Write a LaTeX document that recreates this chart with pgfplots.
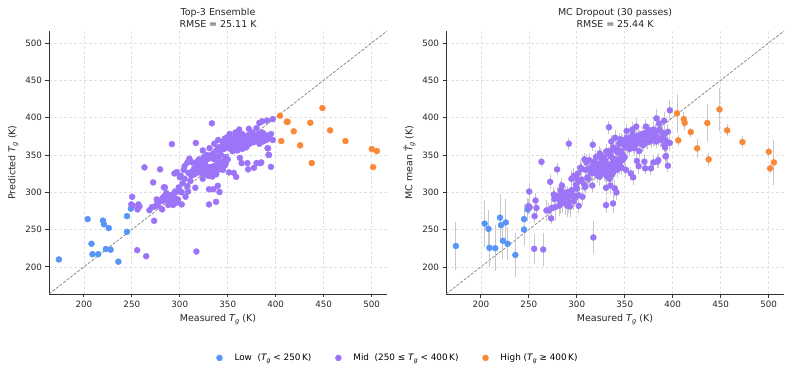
\documentclass[border=0pt]{standalone}
\usepackage{pgfplots}
\pgfplotsset{compat=1.18}
\usepackage{pgfplotstable}
\usepackage{fontspec}
\setmainfont{DejaVu Sans}

\definecolor{lowc}{HTML}{3B82F6}
\definecolor{midc}{HTML}{8B5CF6}
\definecolor{highc}{HTML}{F97316}
\definecolor{gridc}{HTML}{E2E2E2}
\definecolor{spinec}{HTML}{333333}
\definecolor{diagc}{HTML}{808080}
\definecolor{barc}{HTML}{C8C8CC}

% T_g and \hat T_g set in the text font
\newcommand\Tg{\textit{T}\kern-0.04em\raisebox{-0.32ex}{\scalebox{0.7}{\textit{g}}}}
\newcommand\Tghat{\textit{\^{T}}\kern-0.04em\raisebox{-0.32ex}{\scalebox{0.7}{\textit{g}}}}

% measured Tg, ensemble prediction, MC-dropout mean, MC-dropout std
\pgfplotstableread{
x yl yr e
174 210 228 32
204 264 258 31
208 231 251 25
209 217 225.5 25
215 217 225 31
220 262 266 32
221 257 256 20
226 252 259.5 32
223 224 235 25
228 223 231 22
236 207 216 29
245 268 264 20
245 247 250 22
249 278 277 15
}\lowdata

\pgfplotstableread{
x yl yr e
250.4 293.9 301.0 12
249.5 283.7 281.4 10
251.0 282.0 280.0 9
257.0 283.7 289.0 10
258.0 281.0 279.0 12
256.0 277.0 268.0 9
263.2 333.3 340.8 7
272.3 313.2 314.0 10
268.4 276.0 275.6 14
271.0 280.0 276.0 10
274.0 281.0 279.0 11
273.3 261.7 265.0 8
279.5 330.6 330.6 8
276.0 290.4 297.0 10
276.6 285.0 291.0 12
277.5 282.0 280.0 18
281.6 277.0 282.0 14
283.4 306.5 303.0 12
284.5 306.5 309.0 10
255.6 222.4 224.2 20
265.0 214.3 223.3 22
317.3 220.6 239.4 22
280 288 295 12
282 292 290 10
284 295 300 11
285 290 286 14
286 293 296 9
287 297 292 12
288 291 298 10
289 294 290 13
290 296 300 8
291 292 287 15
292 289 294 10
293 295 297 9
294 298 302 12
288 283 285 16
293 283 281 14
296 291 296 10
297 286 288 12
298 290 292 9
295 301 303 10
286 299 296 11
283 289 284 13
290 287 282 15
294.4 325.2 318 12
299.0 306.5 310 10
300 301 305 9
302 300 296 12
302 283.7 281.8 10
306 294 293.9 11
308.6 301 307 9
308 308 310 10
316.2 306 309 8
298 290 293.9 12
303 312 315 10
305 318 317 9
300 320 318 11
297 327 322 10
311 315 320 9
312 322 318 12
315 324 326 10
309 326 330 8
304 330 333 10
301 322 325 11
313 328 332 10
315 332 328 9
316 325 329 11
318 330 326 10
319 335 338 8
320 327 330 12
321 331 335 9
322 326 322 10
323 333 336 9
324 329 333 11
325 324 327 10
326 331 328 8
327 336 339 10
328 327 330 9
329 330 326 11
330 333 337 10
331 325 322 12
332 329 332 9
333 334 330 10
334 328 331 8
335 331 335 10
336 335 338 9
337 327 324 11
338 332 336 10
339 336 333 9
340 330 334 10
341 338 342 8
342 333 330 11
343 340 344 9
344 335 338 10
345 338 341 9
346 342 345 8
347 336 333 10
348 339 343 9
350 344 347 10
318 338 341 9
322 340 338 10
326 341 345 8
330 322 325 11
334 321 318 12
338 324 327 10
345 330 333 9
330 345 342 10
325 347 350 9
320 344 347 10
317 340 337 11
324 318 321 12
336 344 348 9
340 345 342 10
348 347 350 9
330.5 283.7 282.7 11
330.5 304 306 10
335 304 309 12
337.8 287.2 285 13
339.6 308.6 305 11
341.4 300.3 299.8 10
356.3 326 325.2 9
358.8 320.6 320 10
351.3 326.6 330 9
370.5 339 341 10
371.3 330.6 332 8
377.3 332.8 332 9
380 339 340 10
384 339 341 9
393 350 348.5 8
395 334 335.5 9
364.5 339 335 10
362.7 346 342 11
392 358.8 360 9
385 340 343 10
340 340.8 343 9
324 356 352 10
331 359 355 9
328 350 347 10
335 345 348 9
313 340 343 10
310 345 340 11
305 335 331 10
308 340 344 9
335 352 355 10
338 356 360 9
340 360 356 10
342 355 358 11
344 362 365 9
346 358 355 10
348 365 368 9
349 360 364 8
350 368 365 10
351 363 360 9
352 370 373 10
353 358 362 11
354 366 369 9
355 372 368 10
356 362 365 8
357 368 371 9
358 374 377 10
359 365 362 9
360 370 374 8
361 376 372 10
362 362 366 9
363 368 365 10
364 373 376 9
365 378 374 10
366 366 369 8
367 371 368 9
368 375 378 10
369 360 363 9
370 368 365 10
371 372 375 8
372 377 380 9
373 365 368 10
374 370 367 9
375 374 377 10
376 380 383 9
377 367 370 8
378 372 369 10
379 376 379 9
380 369 372 10
381 374 371 9
382 378 381 10
383 365 368 9
384 371 374 8
385 375 372 10
386 380 384 9
387 368 371 10
388 373 370 9
389 377 380 10
390 370 373 9
391 375 378 10
393 372 369 9
395 378 381 10
397 370 366 11
355 355 358 9
360 356 359 10
365 358 355 9
370 362 365 10
345 368 371 9
350 374 370 10
352 378 382 9
347 372 369 10
343 350 353 9
338 348 345 10
333 350 352 9
358 380 384 10
362 384 388 11
340 370 373 10
336 365 368 9
291.8 364.5 365 8
316.7 366 363.6 8
333.5 392.3 387 9
383 393 399 12
386 395 392 10
391 396 395.8 12
397 398 409.7 14
391.5 359 363 9
392.5 350 348 10
372 385 388 10
380 386 384 11
}\middata

\pgfplotstableread{
x yl yr e
404.5 402.5 405.7 26
405.8 368.6 369.5 7
411.5 394.4 398.0 10
412.5 394.4 393.0 9
418.8 381.6 380.6 6
425.5 362.8 358.8 13
436.1 393.1 392.7 25
437.5 339.1 344.0 9
448.7 412.8 411.0 29
456.7 382.9 382.9 8
472.7 368.6 367.2 8
500.2 357.8 354.2 7
501.5 333.7 332.0 6
505.5 355.2 340.0 30
}\highdata

\pgfplotsset{
  tgpanel/.style={
    scale only axis, width=338bp, height=263bp,
    xmin=163.7, xmax=516, ymin=163.7, ymax=516,
    xtick={200,250,...,500}, ytick={200,250,...,500},
    axis lines=left, axis line style={-, spinec, line width=0.8bp},
    tick align=outside, major tick length=3.5bp,
    tick style={spinec, line width=0.8bp},
    grid=major, grid style={gridc, dash pattern=on 3bp off 2bp, line width=0.6bp},
    ticklabel style={font=\fontsize{8.75}{10}\selectfont, text=black!85},
    /pgf/number format/assume math mode=true,
    /pgf/number format/1000 sep={},
    label style={font=\fontsize{9.5}{11}\selectfont, text=black!85},
    title style={font=\fontsize{9.5}{12}\selectfont, align=center, text=black!85,
      at={(0.5,1)}, anchor=south, yshift=-6bp},
  },
  pts/.style={only marks, mark=*, mark size=3bp, color=#1!85!white,
    mark options={solid, fill=#1!85!white, draw=#1!85!white, line width=0.4bp}},
  bars/.style={only marks, mark=none, forget plot,
    error bars/.cd, y dir=both, y explicit, error mark=none,
    error bar style={draw=barc, line width=1bp, solid}},
  diag/.style={diagc, dash pattern=on 3bp off 1.5bp,
    line width=0.7bp, forget plot},
}

\begin{document}
\begin{tikzpicture}
\path[use as bounding box] (0,0) rectangle (791bp,371bp);

% ensemble panel
\begin{axis}[tgpanel, at={(49bp,77bp)}, anchor=south west,
  title={Top-3 Ensemble\\RMSE = 25.11 K},
  xlabel={Measured \Tg{} (K)}, ylabel={Predicted \Tg{} (K)},
  legend columns=3,
  legend style={at={(1.0325,-0.243)}, anchor=center, draw=none, fill=none,
    font=\fontsize{8.9}{10}\selectfont, inner sep=0pt,
    /tikz/every even column/.append style={column sep=22bp}},
  legend image code/.code={%
    \draw[#1] plot coordinates {(0bp,0bp)};
    \path[draw=none, fill=none] (-3bp,-3bp) rectangle (13bp,3bp);}]
\addplot[diag] coordinates {(163.7,163.7) (516,516)};
\addplot[pts=lowc] table[x=x, y=yl] {\lowdata};
\addlegendentry{Low\ \ (\Tg{} < 250\,K)}
\addplot[pts=midc] table[x=x, y=yl] {\middata};
\addlegendentry{Mid\ \ (250 ≤ \Tg{} < 400\,K)}
\addplot[pts=highc] table[x=x, y=yl] {\highdata};
\addlegendentry{High (\Tg{} ≥ 400\,K)}
\end{axis}

% MC-dropout panel
\begin{axis}[tgpanel, at={(446bp,77bp)}, anchor=south west,
  title={MC Dropout (30 passes)\\RMSE = 25.44 K},
  xlabel={Measured \Tg{} (K)}, ylabel={MC mean \Tghat{} (K)}]
\addplot[diag] coordinates {(163.7,163.7) (516,516)};
\addplot[bars] table[x=x, y=yr, y error=e] {\lowdata};
\addplot[bars] table[x=x, y=yr, y error=e] {\middata};
\addplot[bars] table[x=x, y=yr, y error=e] {\highdata};
\addplot[pts=lowc] table[x=x, y=yr] {\lowdata};
\addplot[pts=midc] table[x=x, y=yr] {\middata};
\addplot[pts=highc] table[x=x, y=yr] {\highdata};
\end{axis}
\end{tikzpicture}
\end{document}
